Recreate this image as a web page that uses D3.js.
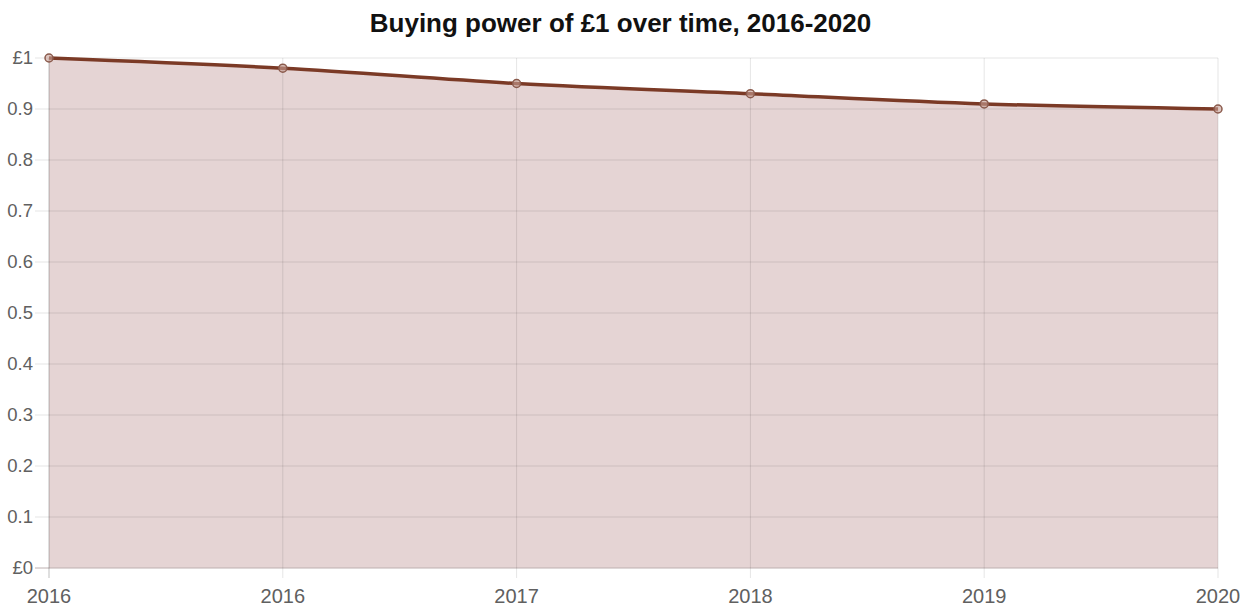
<!DOCTYPE html>
<html><head><meta charset="utf-8">
<script src="https://cdn.jsdelivr.net/npm/d3@7"></script>
<style>body{margin:0;background:#fff;} text{font-family:"Liberation Sans",Arial,Helvetica,sans-serif;}</style>
</head><body><svg id="c" width="1251" height="608"></svg>
<script>
const categories = ["2016","2016","2017","2018","2019","2020"];
const values = [1.0, 0.98, 0.95, 0.93, 0.91, 0.90];
const yTicks = [0,0.1,0.2,0.3,0.4,0.5,0.6,0.7,0.8,0.9,1];
const title = "Buying power of £1 over time, 2016-2020";

const svg = d3.select("#c");
const L=49, R=1218, T=58, B=568;
const x = d3.scaleLinear().domain([0, categories.length-1]).range([L,R]);
const y = d3.scaleLinear().domain([0,1]).range([B,T]);
const fmt = v => v===0 ? "£0" : v===1 ? "£1" : d3.format(".1f")(v);

// area fill
const area = d3.area().x((d,i)=>x(i)).y0(y(0)).y1(d=>y(d)).curve(d3.curveMonotoneX);
svg.append("path").datum(values).attr("d",area).attr("fill","rgba(160,100,100,0.28)");

// grid
const g = svg.append("g");
yTicks.forEach(t=>{
  g.append("line").attr("x1",L-14).attr("x2",R).attr("y1",y(t)).attr("y2",y(t))
   .attr("stroke", t===0 ? "#bdb0b0" : "rgba(0,0,0,0.1)").attr("stroke-width",1);
});
categories.forEach((c,i)=>{
  g.append("line").attr("x1",x(i)).attr("x2",x(i)).attr("y1",T).attr("y2",B+10)
   .attr("stroke", i===0 ? "rgba(0,0,0,0.25)" : "rgba(0,0,0,0.1)").attr("stroke-width",1);
});

// y labels
svg.append("g").selectAll("text").data(yTicks).join("text")
  .attr("x",L-16).attr("y",d=>y(d)).attr("dy","0.35em").attr("text-anchor","end")
  .attr("font-size",18.5).attr("fill","#606060").text(fmt);
// x labels
svg.append("g").selectAll("text").data(categories).join("text")
  .attr("x",(d,i)=>x(i)).attr("y",B+35).attr("text-anchor","middle")
  .attr("font-size",20).attr("fill","#606060").text(d=>d);

// line
const line = d3.line().x((d,i)=>x(i)).y(d=>y(d)).curve(d3.curveMonotoneX);
svg.append("path").datum(values).attr("d",line).attr("fill","none")
  .attr("stroke","#7b3a26").attr("stroke-width",3.5);

// points
svg.append("g").selectAll("circle").data(values).join("circle")
  .attr("cx",(d,i)=>x(i)).attr("cy",d=>y(d)).attr("r",4)
  .attr("fill","rgba(200,160,150,0.6)").attr("stroke","#8a5a4c").attr("stroke-width",1.5);

// title
svg.append("text").attr("x",620.5).attr("y",32).attr("text-anchor","middle")
  .attr("font-size",26).attr("font-weight","bold").attr("fill","#111").text(title);
</script></body></html>
